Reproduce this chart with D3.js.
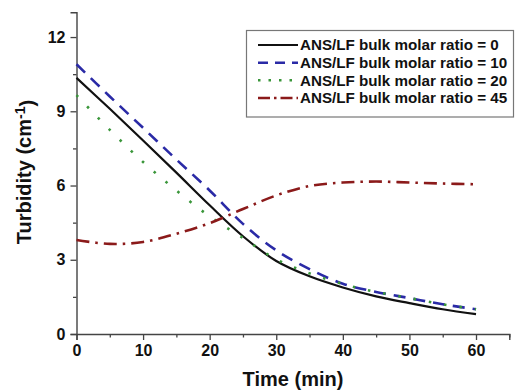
<!DOCTYPE html>
<html>
<head>
<meta charset="utf-8">
<script src="https://cdn.jsdelivr.net/npm/d3@7/dist/d3.min.js"></script>
<style>
  html, body { margin: 0; padding: 0; background: #fff; }
  svg { display: block; font-family: "Liberation Sans", Arial, sans-serif; }
</style>
</head>
<body>
<svg id="chart" width="517" height="392"></svg>
<script>
// Time points (min)
const times = [0, 5, 10, 15, 20, 25, 30, 35, 40, 45, 50, 55, 60];

// Turbidity (cm^-1) for each ANS/LF bulk molar ratio
const ratio0  = [10.35, 9.1, 7.82, 6.52, 5.2, 3.95, 2.95, 2.33, 1.88, 1.52, 1.25, 1.0, 0.8];
const ratio10 = [10.9, 9.6, 8.33, 7.05, 5.8, 4.45, 3.38, 2.62, 2.03, 1.7, 1.45, 1.2, 1.0];
const ratio20 = [9.65, 8.25, 6.95, 5.8, 4.75, 3.88, 3.02, 2.45, 2.02, 1.7, 1.45, 1.2, 1.0];
const ratio45 = [3.8, 3.64, 3.72, 4.05, 4.48, 5.05, 5.6, 5.98, 6.12, 6.16, 6.12, 6.08, 6.05];

const seriesNames = [
  "ANS/LF bulk molar ratio = 0",
  "ANS/LF bulk molar ratio = 10",
  "ANS/LF bulk molar ratio = 20",
  "ANS/LF bulk molar ratio = 45"
];

const xTicks = [0, 10, 20, 30, 40, 50, 60];
const yTicks = [0, 3, 6, 9, 12];

const styles = [
  { color: "#111111", width: 2.2, dash: null, legendDash: null },
  { color: "#2a2aa6", width: 2.6, dash: "12,8", legendDash: "10,7" },
  { color: "#3a963a", width: 2.6, dash: "2.5,13", legendDash: "2.5,8" },
  { color: "#8b1a1a", width: 2.6, dash: "13,6,2.5,6", legendDash: "12,4,2.5,4" }
];

const svg = d3.select("#chart");

const x = d3.scaleLinear().domain([0, 65]).range([76.5, 509.3]);
const y = d3.scaleLinear().domain([0, 13]).range([334, 12.3]);

const axisColor = "#444";

// Bottom axis: major ticks labelled every 10 min, minor ticks at the 5s
svg.append("g").attr("transform", `translate(0,${y(0)})`)
  .call(d3.axisBottom(x).tickValues(xTicks).tickSize(6).tickPadding(5).tickFormat(d3.format("d")));
svg.append("g").attr("transform", `translate(0,${y(0)})`)
  .call(d3.axisBottom(x).tickValues([5, 15, 25, 35, 45, 55, 65]).tickSize(3.5).tickFormat(""))
  .call(g => g.select(".domain").remove());

// Left axis: major ticks every 3, minor ticks in between
svg.append("g").attr("transform", `translate(${x(0)},0)`)
  .call(d3.axisLeft(y).tickValues(yTicks).tickSize(6).tickPadding(5).tickFormat(d3.format("d")));
svg.append("g").attr("transform", `translate(${x(0)},0)`)
  .call(d3.axisLeft(y).tickValues([1.5, 4.5, 7.5, 10.5]).tickSize(3.5).tickFormat(""))
  .call(g => g.select(".domain").remove());

svg.selectAll(".domain").attr("stroke", axisColor).attr("stroke-width", 1.4);
svg.selectAll(".tick line").attr("stroke", axisColor).attr("stroke-width", 1.3);
svg.selectAll(".tick text")
  .attr("fill", "#111")
  .style("font-size", "16px")
  .style("font-weight", "bold")
  .style("font-family", "'Liberation Sans', Arial, sans-serif");

// Curves
const line = d3.line()
  .x((d, i) => x(times[i]))
  .y(d => y(d))
  .curve(d3.curveCatmullRom.alpha(0.5));

const allSeries = [ratio0, ratio10, ratio20, ratio45];
allSeries.forEach((vals, i) => {
  const s = styles[i];
  svg.append("path")
    .datum(vals)
    .attr("d", line)
    .attr("fill", "none")
    .attr("stroke", s.color)
    .attr("stroke-width", s.width)
    .attr("stroke-dasharray", s.dash);
});

// Legend
const legend = svg.append("g");
legend.append("rect")
  .attr("x", 246.5).attr("y", 30.5)
  .attr("width", 267).attr("height", 86.5)
  .attr("fill", "#fff")
  .attr("stroke", "#777")
  .attr("stroke-width", 1.2);

const rowY = [45, 62.7, 80.3, 98];
seriesNames.forEach((name, i) => {
  const s = styles[i];
  legend.append("line")
    .attr("x1", 258).attr("x2", 298)
    .attr("y1", rowY[i]).attr("y2", rowY[i])
    .attr("stroke", s.color)
    .attr("stroke-width", s.width)
    .attr("stroke-dasharray", s.legendDash);
  legend.append("text")
    .attr("x", 300)
    .attr("y", rowY[i])
    .attr("dy", "0.36em")
    .attr("fill", "#111")
    .style("font-size", "15.2px")
    .style("font-weight", "bold")
    .text(name);
});

// Axis titles
svg.append("text")
  .attr("x", 293).attr("y", 386)
  .attr("text-anchor", "middle")
  .attr("fill", "#111")
  .style("font-size", "20px")
  .style("font-weight", "bold")
  .text("Time (min)");

const yt = svg.append("text")
  .attr("transform", "translate(31,172) rotate(-90)")
  .attr("text-anchor", "middle")
  .attr("fill", "#111")
  .style("font-size", "20px")
  .style("font-weight", "bold");
yt.append("tspan").text("Turbidity (cm");
yt.append("tspan").attr("dy", "-0.45em").style("font-size", "14px").text("-1");
yt.append("tspan").attr("dy", "0.45em").text(")");
</script>
</body>
</html>
